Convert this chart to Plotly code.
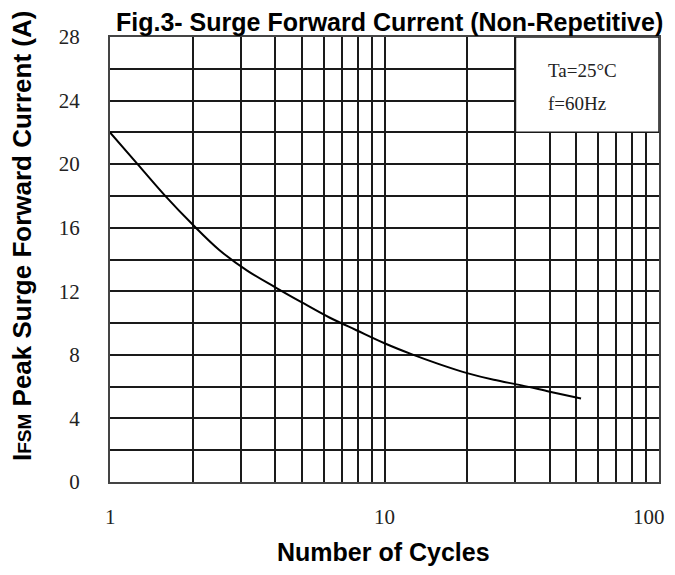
import math
import plotly.graph_objects as go

# Data
cycles = [1, 1.26, 1.58, 2, 2.5, 3.16, 4, 5, 6.3, 7.9, 10, 12.6, 15.8, 20, 25, 31.6, 40, 52]
ifsm = [22, 20.0, 18.05, 16.2, 14.6, 13.3, 12.25, 11.3, 10.35, 9.55, 8.73, 8.03, 7.42, 6.85, 6.43, 6.08, 5.68, 5.25]

x_gridvals = [1, 2, 3, 4, 5, 6, 7, 8, 9, 10, 20, 30, 40, 50, 60, 70, 80, 90, 100]
x_labels = [1, 10, 100]
y_tickvals = list(range(0, 29, 2))
y_ticktext = [str(v) if v % 4 == 0 else "" for v in y_tickvals]

title_text = "Fig.3- Surge Forward Current (Non-Repetitive)"
xtitle_text = "Number of Cycles"
ytitle_text = "I<span style='font-size:19px'>FSM</span> Peak Surge Forward Current (A)"
legend_lines = ["Ta=25°C", "f=60Hz"]

# the page has an 8px body margin; the figure is sized to stay inside the window
OFF = 8
W, H = 659, 559
L, R, T, B = 102, 8, 29, 85
pw, ph = W - L - R, H - T - B

def px_x(p):
    return (p - OFF - L) / pw

def px_y(p):
    return (H - B - (p - OFF)) / ph

fig = go.Figure()
fig.add_trace(go.Scatter(
    x=cycles, y=ifsm, mode="lines",
    line=dict(color="black", width=2, shape="spline", smoothing=1.0),
    showlegend=False, hoverinfo="skip",
))

serif = "Liberation Serif, Times New Roman, serif"
sans = "Liberation Sans, Arial, sans-serif"

fig.update_layout(
    width=W, height=H,
    margin=dict(l=L, r=R, t=T, b=B, autoexpand=False),
    paper_bgcolor="white", plot_bgcolor="white",
    xaxis=dict(
        type="log", range=[0, 2], automargin=False,
        tickmode="array", tickvals=x_gridvals, ticktext=["" for _ in x_gridvals],
        showgrid=True, gridcolor="#1a1a1a", gridwidth=1.5,
        showline=True, linecolor="#444", linewidth=2, mirror=True,
        ticks="", zeroline=False,
    ),
    yaxis=dict(
        range=[0, 28], automargin=False,
        tickmode="array", tickvals=y_tickvals, ticktext=y_ticktext,
        showgrid=True, gridcolor="#1a1a1a", gridwidth=1.5,
        showline=True, linecolor="#444", linewidth=2, mirror=True,
        ticks="", zeroline=False,
        tickfont=dict(family=serif, size=21, color="#222"),
        ticklabelstandoff=24,
    ),
)

# x tick labels placed on the log axis (the last one right-aligned to stay in the window)
for v in x_labels:
    last = v == x_labels[-1]
    fig.add_annotation(text=str(v), xref="x", yref="paper", x=math.log10(v), y=px_y(517),
                       xanchor="right" if last else "center", yanchor="middle",
                       xshift=8 if last else 0, showarrow=False,
                       font=dict(family=serif, size=21, color="#222"))

# legend box (Ta / f conditions), drawn in data coordinates
fig.add_shape(type="rect", xref="x", yref="y", x0=30, x1=100, y0=22, y1=28,
              fillcolor="white", line=dict(color="#1a1a1a", width=1.5), layer="above")

annotations = [
    dict(text="<b>" + title_text + "</b>", x=px_x(389), y=px_y(22),
         font=dict(family=sans, size=25, color="black")),
    dict(text="<b>" + xtitle_text + "</b>", x=px_x(383), y=px_y(552),
         font=dict(family=sans, size=25, color="black")),
    dict(text="<b>" + ytitle_text + "</b>", x=px_x(22), y=px_y(236), textangle=-90,
         font=dict(family=sans, size=26, color="black")),
]
for a in annotations:
    a.update(xref="paper", yref="paper", showarrow=False, xanchor="center", yanchor="middle")
    fig.add_annotation(**a)

for i, line in enumerate(legend_lines):
    fig.add_annotation(text=line, xref="paper", yref="paper",
                       x=px_x(546), y=px_y(70 + 33 * i), xanchor="left", yanchor="middle",
                       showarrow=False, font=dict(family=serif, size=19, color="#222"))

fig.write_html("out.html")
